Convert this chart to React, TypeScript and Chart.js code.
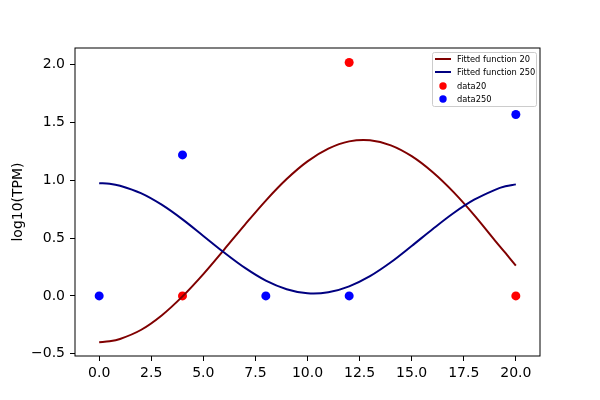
import React, { useEffect, useRef } from 'react';
import { Chart, registerables, Plugin } from 'chart.js';

Chart.register(...registerables);

// x positions of the fitted curves
const fitX = [0, 0.5, 1, 2, 3, 4, 5, 6, 7, 8, 9, 10, 11, 12, 13, 14, 15, 16, 17, 18, 19, 19.5, 20];
const fit20 = [-0.4, -0.393, -0.373, -0.295, -0.169, -0.004, 0.189, 0.401, 0.617, 0.825, 1.011, 1.164, 1.274, 1.337, 1.347, 1.303, 1.209, 1.072, 0.9, 0.699, 0.479, 0.372, 0.262];
const fit250 = [0.975, 0.97, 0.953, 0.889, 0.789, 0.662, 0.519, 0.375, 0.242, 0.132, 0.058, 0.022, 0.031, 0.083, 0.171, 0.291, 0.432, 0.577, 0.715, 0.832, 0.918, 0.948, 0.965];

const data20X = [4, 12, 20];
const data20Y = [0, 2.02, 0];
const data250X = [0, 4, 8, 12, 20];
const data250Y = [0, 1.22, 0, 0, 1.57];

const xTicks = [0, 2.5, 5, 7.5, 10, 12.5, 15, 17.5, 20];
const yTicks = [-0.5, 0, 0.5, 1, 1.5, 2];

const legendItems = [
    { label: 'Fitted function 20', color: '#800000', kind: 'line' },
    { label: 'Fitted function 250', color: '#000080', kind: 'line' },
    { label: 'data20', color: '#ff0000', kind: 'dot' },
    { label: 'data250', color: '#0000ff', kind: 'dot' },
];

const fmt = (v: number) => (v < 0 ? '\u2212' : '') + Math.abs(v).toFixed(1);

const framePlugin: Plugin = {
    id: 'frame',
    afterDraw(chart) {
        const { ctx, chartArea } = chart;
        ctx.save();
        ctx.strokeStyle = '#000';
        ctx.lineWidth = 1;
        ctx.strokeRect(chartArea.left, chartArea.top, chartArea.right - chartArea.left, chartArea.bottom - chartArea.top);

        // legend box in the upper right corner
        const w = 104;
        const h = 54;
        const left = chartArea.right - 4 - w;
        const top = chartArea.top + 4;
        ctx.beginPath();
        ctx.roundRect(left + 0.5, top + 0.5, w, h, 2);
        ctx.fillStyle = 'rgba(255,255,255,0.8)';
        ctx.fill();
        ctx.strokeStyle = '#cccccc';
        ctx.stroke();

        const rows = [7, 20, 34, 47];
        ctx.font = '8.3px "DejaVu Sans"';
        ctx.textBaseline = 'middle';
        ctx.textAlign = 'left';
        legendItems.forEach((item, i) => {
            const y = top + rows[i];
            if (item.kind === 'line') {
                ctx.strokeStyle = item.color;
                ctx.lineWidth = 2;
                ctx.beginPath();
                ctx.moveTo(left + 3, y);
                ctx.lineTo(left + 19, y);
                ctx.stroke();
            } else {
                ctx.fillStyle = item.color;
                ctx.beginPath();
                ctx.arc(left + 11, y, 3.7, 0, Math.PI * 2);
                ctx.fill();
            }
            ctx.fillStyle = '#000';
            ctx.fillText(item.label, left + 25, y + 0.5);
        });
        ctx.restore();
    },
};

const App: React.FC = () => {
    const canvasRef = useRef<HTMLCanvasElement | null>(null);
    const chartRef = useRef<Chart | null>(null);

    useEffect(() => {
        document.body.style.margin = '0';
        if (!canvasRef.current) return;
        const ctx = canvasRef.current.getContext('2d');
        if (!ctx) return;
        if (chartRef.current) chartRef.current.destroy();

        Chart.defaults.font.family = '"DejaVu Sans", sans-serif';
        Chart.defaults.font.size = 14;
        Chart.defaults.color = '#000';

        chartRef.current = new Chart(ctx, {
            type: 'scatter',
            data: {
                datasets: [
                    {
                        label: 'Fitted function 20',
                        data: fitX.map((x, i) => ({ x, y: fit20[i] })),
                        showLine: true,
                        borderColor: '#800000',
                        borderWidth: 2,
                        pointRadius: 0,
                        tension: 0.33,
                        order: 1,
                    },
                    {
                        label: 'Fitted function 250',
                        data: fitX.map((x, i) => ({ x, y: fit250[i] })),
                        showLine: true,
                        borderColor: '#000080',
                        borderWidth: 2,
                        pointRadius: 0,
                        tension: 0.33,
                        order: 0,
                    },
                    {
                        label: 'data20',
                        data: data20X.map((x, i) => ({ x, y: data20Y[i] })),
                        backgroundColor: '#ff0000',
                        borderWidth: 0,
                        pointRadius: 4.5,
                        order: 3,
                    },
                    {
                        label: 'data250',
                        data: data250X.map((x, i) => ({ x, y: data250Y[i] })),
                        backgroundColor: '#0000ff',
                        borderWidth: 0,
                        pointRadius: 4.5,
                        order: 2,
                    },
                ],
            },
            options: {
                responsive: false,
                animation: false,
                layout: { padding: { top: 48, right: 60, left: 0, bottom: 0 } },
                plugins: {
                    legend: { display: false },
                    tooltip: { enabled: false },
                },
                scales: {
                    x: {
                        type: 'linear',
                        min: -1.16,
                        max: 21.16,
                        afterBuildTicks: (scale) => {
                            scale.ticks = xTicks.map((value) => ({ value }));
                        },
                        afterFit: (scale) => {
                            scale.height = 44;
                        },
                        ticks: { callback: (v) => fmt(Number(v)), padding: 4, maxRotation: 0, autoSkip: false },
                        grid: { drawOnChartArea: false, drawTicks: true, tickLength: 5, color: '#000' },
                        border: { display: false },
                    },
                    y: {
                        type: 'linear',
                        min: -0.52,
                        max: 2.145,
                        afterBuildTicks: (scale) => {
                            scale.ticks = yTicks.map((value) => ({ value }));
                        },
                        afterFit: (scale) => {
                            scale.width = 75;
                        },
                        ticks: { callback: (v) => fmt(Number(v)), padding: 5, autoSkip: false },
                        grid: { drawOnChartArea: false, drawTicks: true, tickLength: 5, color: '#000' },
                        border: { display: false },
                        title: { display: true, text: 'log10(TPM)', padding: { top: 10, bottom: 0 } },
                    },
                },
            },
            plugins: [framePlugin],
        });

        return () => {
            if (chartRef.current) {
                chartRef.current.destroy();
                chartRef.current = null;
            }
        };
    }, []);

    return (
        <div style={{ width: 600, height: 400 }}>
            <canvas ref={canvasRef} width={600} height={400}></canvas>
        </div>
    );
};

export default App;
